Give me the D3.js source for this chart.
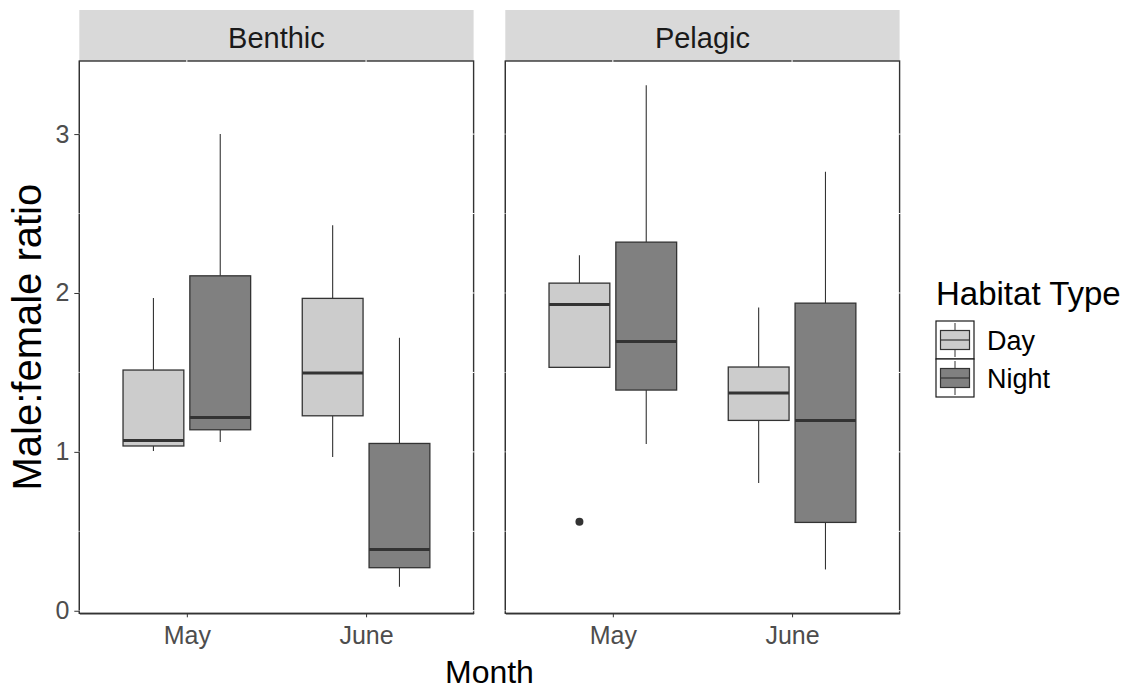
<!DOCTYPE html>
<html>
<head>
<meta charset="utf-8">
<script src="https://cdn.jsdelivr.net/npm/d3@7"></script>
<style>
  body { margin: 0; background: #fff; }
  text { font-family: "Liberation Sans", Arial, sans-serif; }
</style>
</head>
<body>
<script>
const facets = ["Benthic", "Pelagic"];
const months = ["May", "June"];
const habitats = ["Day", "Night"];
const yTicks = [0, 1, 2, 3];

// one entry per box, order: Benthic May Day, Benthic May Night, Benthic June Day, Benthic June Night,
// then the same for Pelagic
const boxFacet   = ["Benthic", "Benthic", "Benthic", "Benthic", "Pelagic", "Pelagic", "Pelagic", "Pelagic"];
const boxMonth   = ["May", "May", "June", "June", "May", "May", "June", "June"];
const boxHabitat = ["Day", "Night", "Day", "Night", "Day", "Night", "Day", "Night"];
const whiskerLow  = [1.005, 1.062, 0.967, 0.151, 1.532, 1.049, 0.804, 0.260];
const q1          = [1.037, 1.139, 1.227, 0.271, 1.532, 1.389, 1.198, 0.556];
const median      = [1.072, 1.217, 1.496, 0.386, 1.928, 1.695, 1.370, 1.198];
const q3          = [1.515, 2.108, 1.966, 1.053, 2.062, 2.320, 1.534, 1.936];
const whiskerHigh = [1.968, 3.000, 2.427, 1.718, 2.237, 3.308, 1.909, 2.763];

const outlierFacet = ["Pelagic"];
const outlierMonth = ["May"];
const outlierHabitat = ["Day"];
const outlierValue = [0.56];

const width = 1129, height = 689;
const panelTop = 61, panelBottom = 613.3, stripTop = 10;
const panelLeft = [79.3, 505.3];
const panelW = 394.3;

const fill = d3.scaleOrdinal().domain(habitats).range(["#cccccc", "#808080"]);
const ink = "#333333";

const svg = d3.select("body").append("svg")
    .attr("width", width)
    .attr("height", height);

const y = d3.scaleLinear().domain([-0.016, 3.46]).range([panelBottom, panelTop]);
const x = d3.scalePoint().domain(months).range([0, panelW]).padding(0.6);
const half = x.step() * 0.356;
const dodge = d3.scaleBand().domain(habitats).range([-half, half]).paddingInner(0.09);

const boxes = whiskerLow.map((lo, i) => ({
    facet: boxFacet[i], month: boxMonth[i], habitat: boxHabitat[i],
    lo: lo, q1: q1[i], med: median[i], q3: q3[i], hi: whiskerHigh[i]
}));

facets.forEach((facet, f) => {
    const g = svg.append("g").attr("transform", `translate(${panelLeft[f]},0)`);

    // strip
    g.append("rect")
        .attr("x", 0).attr("y", stripTop)
        .attr("width", panelW).attr("height", panelTop - stripTop)
        .attr("fill", "#d9d9d9");
    g.append("text")
        .attr("x", panelW / 2).attr("y", 48)
        .attr("text-anchor", "middle")
        .attr("font-size", "29px")
        .attr("fill", "#1a1a1a")
        .text(facet);

    // border
    g.append("rect")
        .attr("x", 0).attr("y", panelTop)
        .attr("width", panelW).attr("height", panelBottom - panelTop)
        .attr("fill", "none")
        .attr("stroke", ink)
        .attr("stroke-width", 1.4);

    // white grid lines drawn over the border (leave small gaps in it)
    const gridY = d3.range(0, 3.5, 0.5);
    g.selectAll(".gy").data(gridY).join("line")
        .attr("x1", -1).attr("x2", panelW + 1)
        .attr("y1", d => y(d)).attr("y2", d => y(d))
        .attr("stroke", "#fff").attr("stroke-width", 1);
    g.selectAll(".gx").data(months).join("line")
        .attr("x1", d => x(d)).attr("x2", d => x(d))
        .attr("y1", panelTop - 1).attr("y2", panelBottom - 2)
        .attr("stroke", "#fff").attr("stroke-width", 1);

    // x axis
    const xAxis = g.append("g")
        .attr("transform", `translate(0,${panelBottom})`)
        .call(d3.axisBottom(x).tickSize(4).tickSizeOuter(0).tickPadding(9));
    xAxis.select(".domain").attr("stroke", ink).attr("stroke-width", 1.6);
    xAxis.selectAll(".tick line").attr("stroke", ink);
    xAxis.selectAll(".tick text")
        .attr("font-size", "25px")
        .attr("fill", "#4d4d4d")
        .attr("font-family", "Liberation Sans, Arial, sans-serif");

    // y axis only on the first panel
    if (f === 0) {
        const yAxis = g.append("g")
            .call(d3.axisLeft(y).tickValues(yTicks).tickFormat(d3.format("d")).tickSize(5).tickPadding(5));
        yAxis.select(".domain").remove();
        yAxis.selectAll(".tick line").attr("stroke", ink);
        yAxis.selectAll(".tick text")
            .attr("font-size", "25px")
            .attr("fill", "#4d4d4d")
            .attr("font-family", "Liberation Sans, Arial, sans-serif");
    }
    g.append("line")
        .attr("x1", 0).attr("x2", 0)
        .attr("y1", panelTop).attr("y2", panelBottom)
        .attr("stroke", ink).attr("stroke-width", 0.6);

    const fb = boxes.filter(d => d.facet === facet);
    const cx = d => x(d.month) + dodge(d.habitat) + dodge.bandwidth() / 2;

    // whiskers
    g.selectAll(".wh").data(fb).join("line")
        .attr("x1", cx).attr("x2", cx)
        .attr("y1", d => y(d.q3)).attr("y2", d => y(d.hi))
        .attr("stroke", ink).attr("stroke-width", 1.1);
    g.selectAll(".wl").data(fb).join("line")
        .attr("x1", cx).attr("x2", cx)
        .attr("y1", d => y(d.q1)).attr("y2", d => y(d.lo))
        .attr("stroke", ink).attr("stroke-width", 1.1);

    // boxes
    g.selectAll(".box").data(fb).join("rect")
        .attr("x", d => x(d.month) + dodge(d.habitat))
        .attr("y", d => y(d.q3))
        .attr("width", dodge.bandwidth())
        .attr("height", d => y(d.q1) - y(d.q3))
        .attr("fill", d => fill(d.habitat))
        .attr("stroke", ink)
        .attr("stroke-width", 1.3);

    // medians
    g.selectAll(".med").data(fb).join("line")
        .attr("x1", d => x(d.month) + dodge(d.habitat))
        .attr("x2", d => x(d.month) + dodge(d.habitat) + dodge.bandwidth())
        .attr("y1", d => y(d.med)).attr("y2", d => y(d.med))
        .attr("stroke", ink).attr("stroke-width", 3);

    // outliers
    outlierValue.forEach((v, k) => {
        if (outlierFacet[k] !== facet) return;
        g.append("circle")
            .attr("cx", x(outlierMonth[k]) + dodge(outlierHabitat[k]) + dodge.bandwidth() / 2)
            .attr("cy", y(v))
            .attr("r", 4)
            .attr("fill", ink);
    });
});

// axis titles
svg.append("text")
    .attr("x", (panelLeft[0] + panelLeft[1] + panelW) / 2)
    .attr("y", 683)
    .attr("text-anchor", "middle")
    .attr("font-size", "32px")
    .attr("fill", "#000")
    .text("Month");

svg.append("text")
    .attr("transform", `translate(41,${(panelTop + panelBottom) / 2}) rotate(-90)`)
    .attr("text-anchor", "middle")
    .attr("font-size", "40px")
    .attr("fill", "#000")
    .text("Male:female ratio");

// legend
const legend = svg.append("g").attr("transform", "translate(936,321)");
legend.append("text")
    .attr("x", 0).attr("y", -16)
    .attr("font-size", "33px")
    .attr("fill", "#000")
    .text("Habitat Type");

const keySize = 38;
habitats.forEach((h, i) => {
    const k = legend.append("g").attr("transform", `translate(0,${i * keySize})`);
    k.append("rect")
        .attr("width", keySize).attr("height", keySize)
        .attr("fill", "#fff")
        .attr("stroke", "#1a1a1a").attr("stroke-width", 1.2);
    k.append("line")
        .attr("x1", keySize / 2).attr("x2", keySize / 2)
        .attr("y1", 2).attr("y2", keySize - 2)
        .attr("stroke", ink).attr("stroke-width", 1);
    k.append("rect")
        .attr("x", 4.5).attr("y", 9.5)
        .attr("width", keySize - 9).attr("height", keySize - 19)
        .attr("fill", fill(h))
        .attr("stroke", ink).attr("stroke-width", 1.2);
    k.append("line")
        .attr("x1", 4.5).attr("x2", keySize - 4.5)
        .attr("y1", keySize / 2).attr("y2", keySize / 2)
        .attr("stroke", ink).attr("stroke-width", 1.2);
    k.append("text")
        .attr("x", keySize + 13).attr("y", keySize / 2 + 10)
        .attr("font-size", "27px")
        .attr("fill", "#000")
        .text(h);
});
</script>
</body>
</html>
